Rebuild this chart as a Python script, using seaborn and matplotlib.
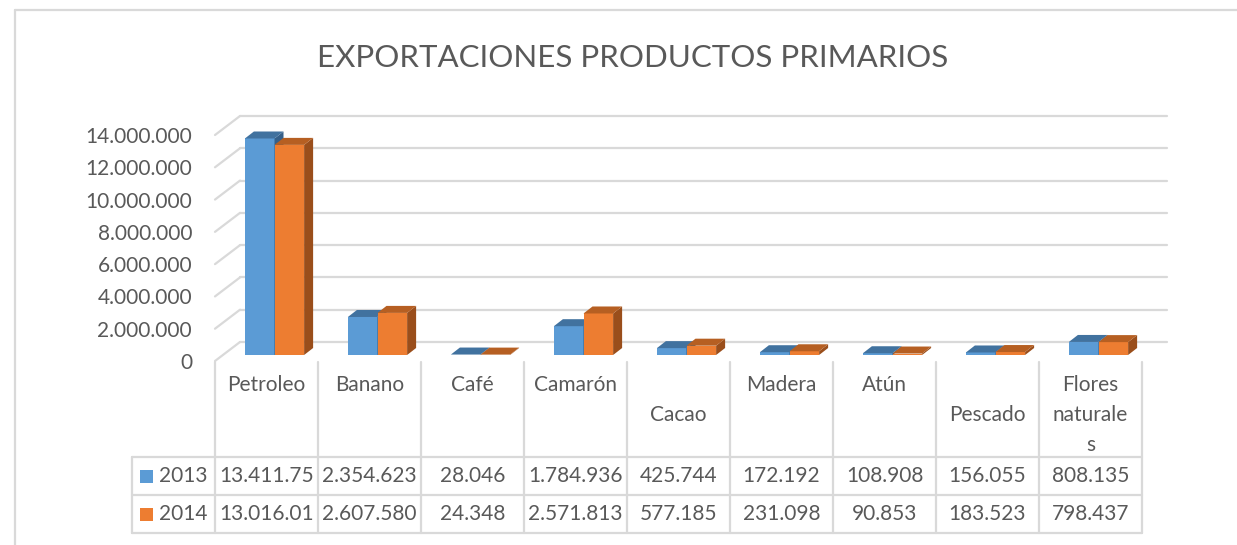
import numpy as np
import pandas as pd
import matplotlib
matplotlib.use("Agg")
import matplotlib.pyplot as plt
import matplotlib.transforms as mtransforms
from matplotlib.patches import Polygon, Rectangle
from matplotlib.lines import Line2D
import seaborn as sns

# ---------------- data ----------------
categories = ["Petroleo", "Banano", "Café", "Camarón", "Cacao", "Madera",
              "Atún", "Pescado", "Flores naturales"]
header_labels = ["Petroleo", "Banano", "Café", "Camarón", "Cacao", "Madera",
                 "Atún", "Pescado", "Flores\nnaturale\ns"]
series_names = ["2013", "2014"]
values_2013 = [13411750, 2354623, 28046, 1784936, 425744, 172192, 108908, 156055, 808135]
values_2014 = [13016010, 2607580, 24348, 2571813, 577185, 231098, 90853, 183523, 798437]
y_ticks = [0, 2000000, 4000000, 6000000, 8000000, 10000000, 12000000, 14000000]
title = "EXPORTACIONES PRODUCTOS PRIMARIOS"

# ---------------- style ----------------
W, H, DPI = 1237, 545, 100
colors = ["#5B9BD5", "#ED7D31"]
top_colors = ["#41729F", "#B65F22"]
side_colors = ["#35608A", "#9A4E1B"]
grid_color = "#D9D9D9"
text_color = "#595959"
FONT = ["Lato", "DejaVu Sans"]

sns.set_theme(style="white")
plt.rcParams["font.family"] = FONT

def fmt(v):
    return f"{int(round(v)):,}".replace(",", ".")

df = pd.DataFrame({
    "cat": categories * 2,
    "year": [series_names[0]] * len(categories) + [series_names[1]] * len(categories),
    "val": values_2013 + values_2014,
})

fig = plt.figure(figsize=(W / DPI, H / DPI), dpi=DPI)
fig.patch.set_facecolor("white")

# pixel transform: (x from left, y from top) -> display
PX = mtransforms.Affine2D().scale(1, -1).translate(0, H)
IDT = mtransforms.IdentityTransform()

# axes in "bar plane"
ax_left, ax_right = 223, 1150
ax_top, ax_bot = 129, 355
ax = fig.add_axes([ax_left / W, (H - ax_bot) / H, (ax_right - ax_left) / W, (ax_bot - ax_top) / H])
ax.set_facecolor("none")

sns.barplot(data=df, x="cat", y="val", hue="year", order=categories,
            hue_order=series_names, palette=colors, width=0.575, gap=0,
            saturation=1, legend=False, ax=ax, zorder=3)

ax.set_xlim(-0.5, len(categories) - 0.5)
ax.set_ylim(0, 14000000)
for s in ax.spines.values():
    s.set_visible(False)
ax.set_xlabel("")
ax.set_ylabel("")
ax.set_xticks([])
ax.grid(False)

# offsets (display pixels)
FRONT = (-8, -6)
BACK = (17, 13)
DEPTH = (9, 7)

def off(dx, dy):
    return mtransforms.ScaledTranslation(dx / DPI, dy / DPI, fig.dpi_scale_trans)

# y tick labels at front plane
ax.set_yticks(y_ticks)
ax.set_yticklabels([fmt(v) for v in y_ticks], fontsize=15, color=text_color)
ax.tick_params(axis="y", length=0, pad=16.5)
for lab in ax.get_yticklabels():
    lab.set_transform(lab.get_transform() + off(*FRONT))

# gridlines on back wall + slanted side wall lines
xl = ax.get_xlim()
for v in y_ticks:
    ax.add_artist(Line2D(list(xl), [v, v], color=grid_color, lw=1.6,
                         transform=ax.transData + off(*BACK), zorder=1, clip_on=False))
    p = ax.transData.transform((xl[0], v))
    ax.add_artist(Line2D([p[0] + FRONT[0], p[0] + BACK[0]], [p[1] + FRONT[1], p[1] + BACK[1]],
                         color=grid_color, lw=1.6, transform=IDT, zorder=1, clip_on=False))

# 3D faces for bars (drawn inside the axes so zorders interleave with fronts)
for si, cont in enumerate(ax.containers):
    for patch in cont.patches:
        patch.set_zorder(3 + 2 * si)
        patch.set_edgecolor("none")
        (x0, y0), (x1, y1) = ax.transData.transform(
            [(patch.get_x(), patch.get_y()), (patch.get_x() + patch.get_width(), patch.get_y() + patch.get_height())])
        dx, dy = DEPTH
        side = Polygon([(x1, y0), (x1 + dx, y0 + dy), (x1 + dx, y1 + dy), (x1, y1)], closed=True,
                       facecolor=side_colors[si], edgecolor="none", transform=IDT,
                       zorder=3.5 + 2 * si, clip_on=False)
        top = Polygon([(x0, y1), (x1, y1), (x1 + dx, y1 + dy), (x0 + dx, y1 + dy)], closed=True,
                      facecolor=top_colors[si], edgecolor="none", transform=IDT,
                      zorder=3.6 + 2 * si, clip_on=False)
        ax.add_artist(side)
        ax.add_artist(top)

# ---------------- data table ----------------
col_x = [ax.transData.transform((i - 0.5, 0))[0] + FRONT[0] for i in range(len(categories) + 1)]
tbl_left = 132
y_head_top, y_r1, y_r2, y_bot = 362, 457, 495, 533
line_kw = dict(color=grid_color, lw=1.6, transform=PX, zorder=2)

for cx in col_x:
    fig.add_artist(Line2D([cx, cx], [y_head_top, y_bot], **line_kw))
fig.add_artist(Line2D([tbl_left, tbl_left], [y_r1, y_bot], **line_kw))
for yy in (y_r1, y_r2, y_bot):
    fig.add_artist(Line2D([tbl_left, col_x[-1]], [yy, yy], **line_kw))

# header labels
line_h = 30
start_line = [0, 0, 0, 0, 1, 0, 0, 1, 0]
for i, lab in enumerate(header_labels):
    cx = (col_x[i] + col_x[i + 1]) / 2
    for j, part in enumerate(lab.split("\n")):
        fig.text(cx, 385 + line_h * (start_line[i] + j), part, transform=PX, ha="center", va="center",
                 fontsize=15, color=text_color)

# value rows
row_centers = [(y_r1 + y_r2) / 2, (y_r2 + y_bot) / 2]
for si, vals in enumerate([values_2013, values_2014]):
    yc = row_centers[si]
    fig.add_artist(Rectangle((140, yc - 6.5), 13, 13, facecolor=colors[si], edgecolor="none",
                             transform=PX, zorder=3))
    fig.text(183, yc, series_names[si], transform=PX, ha="center", va="center",
             fontsize=15, color=text_color)
    for i, v in enumerate(vals):
        cx = (col_x[i] + col_x[i + 1]) / 2
        fig.text(cx, yc, fmt(v)[:9], transform=PX, ha="center", va="center",
                 fontsize=15, color=text_color)

# title
fig.text(633, 58, title, transform=PX, ha="center", va="center", fontsize=22.5, color=text_color)

# chart area border
fig.add_artist(Line2D([15, W], [10, 10], **line_kw))
fig.add_artist(Line2D([15, 15], [10, H], **line_kw))

fig.savefig("out.png", dpi=DPI, facecolor="white")
